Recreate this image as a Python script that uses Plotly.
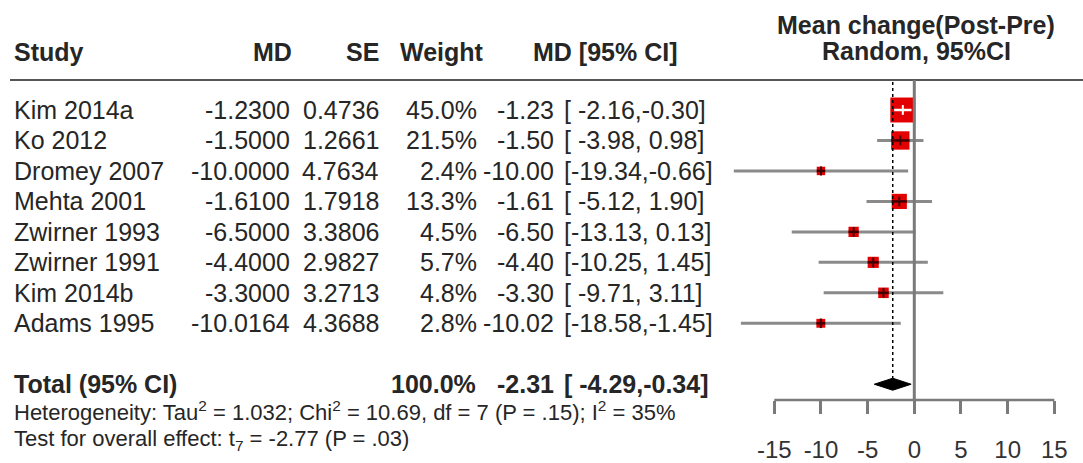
import math
import plotly.graph_objects as go

# ---- study-level data -------------------------------------------------------
studies = ["Kim 2014a", "Ko 2012", "Dromey 2007", "Mehta 2001",
           "Zwirner 1993", "Zwirner 1991", "Kim 2014b", "Adams 1995"]
md = [-1.2300, -1.5000, -10.0000, -1.6100, -6.5000, -4.4000, -3.3000, -10.0164]
se = [0.4736, 1.2661, 4.7634, 1.7918, 3.3806, 2.9827, 3.2713, 4.3688]
weight = [45.0, 21.5, 2.4, 13.3, 4.5, 5.7, 4.8, 2.8]
ci_lower = [-2.16, -3.98, -19.34, -5.12, -13.13, -10.25, -9.71, -18.58]
ci_upper = [-0.30, 0.98, -0.66, 1.90, 0.13, 1.45, 3.11, -1.45]

# ---- pooled (random effects) result ----------------------------------------
pooled_md = -2.31
pooled_lower = -4.29
pooled_upper = -0.34
total_weight = 100.0
tau2 = 1.032
chi2 = 10.69
het_df = 7
het_p = ".15"
i2 = 35
t_stat = -2.77
overall_p = ".03"

axis_ticks = [-15, -10, -5, 0, 5, 10, 15]

# ---- page geometry ----------------------------------------------------------
W, H = 1083, 463
ZERO_PX = 914.3            # horizontal pixel of MD = 0
PX_PER_UNIT = 140.0 / 15   # pixels per MD unit
ROW0_PX = 110.0            # vertical pixel of the first study row
ROW_STEP = 30.47           # pixels between rows
AXIS_PX = 400.0            # vertical pixel of the MD axis line

x_range = [-ZERO_PX / PX_PER_UNIT, (W - ZERO_PX) / PX_PER_UNIT]
y_range = [(H - ROW0_PX) / ROW_STEP, -ROW0_PX / ROW_STEP]


def row_of(px):
    return (px - ROW0_PX) / ROW_STEP


def fx(px):
    return px / W


rows = list(range(len(studies)))
total_row = len(studies) + 1

FONT = "Liberation Sans, Arial, Helvetica, sans-serif"
TXT = "#262626"
GREY = "#8a8a8a"
FS = 25

fig = go.Figure()

# confidence interval whiskers
wx, wy = [], []
for r, lo, hi in zip(rows, ci_lower, ci_upper):
    wx += [lo, hi, None]
    wy += [r, r, None]
fig.add_trace(go.Scatter(x=wx, y=wy, mode="lines",
                         line=dict(color=GREY, width=3), hoverinfo="skip"))

# weight squares (area grows with weight)
box_sizes = [3.2 * math.sqrt(w) + 3.5 for w in weight]
fig.add_trace(go.Scatter(x=md, y=rows, mode="markers",
                         marker=dict(symbol="square", size=box_sizes, opacity=1,
                                     color="#e30000", line=dict(width=0)),
                         hoverinfo="skip"))

# interval drawn across each square: white when it lies inside the square
for r, m, lo, hi, s in zip(rows, md, ci_lower, ci_upper, box_sizes):
    half = s / 2 / PX_PER_UNIT
    inside = lo >= m - half and hi <= m + half
    col = "white" if inside else "#400000"
    fig.add_trace(go.Scatter(x=[max(lo, m - half), min(hi, m + half)], y=[r, r],
                             mode="lines", line=dict(color=col, width=2.5),
                             hoverinfo="skip"))
    fig.add_trace(go.Scatter(x=[m], y=[r], mode="markers",
                             marker=dict(symbol="line-ns", size=min(7, s - 2),
                                         line=dict(color=col, width=2)),
                             hoverinfo="skip"))

# pooled diamond
dh = 6 / ROW_STEP
fig.add_trace(go.Scatter(
    x=[pooled_lower, pooled_md, pooled_upper, pooled_md, pooled_lower],
    y=[total_row, total_row - dh, total_row, total_row + dh, total_row],
    mode="lines", fill="toself", fillcolor="black",
    line=dict(color="black", width=1), hoverinfo="skip"))

shapes = [
    # rule under the column headers
    dict(type="line", xref="paper", yref="y", x0=fx(10), x1=1,
         y0=row_of(80), y1=row_of(80), line=dict(color="#555555", width=2)),
    # line of no effect
    dict(type="line", xref="x", yref="y", x0=0, x1=0,
         y0=row_of(80), y1=row_of(AXIS_PX), line=dict(color="#7a7a7a", width=3)),
    # pooled estimate reference
    dict(type="line", xref="x", yref="y", x0=pooled_md, x1=pooled_md,
         y0=row_of(82), y1=total_row - dh, line=dict(color="black", width=1.5, dash="dot")),
    # MD axis line
    dict(type="line", xref="x", yref="paper", x0=axis_ticks[0], x1=axis_ticks[-1],
         y0=(H - AXIS_PX) / H, y1=(H - AXIS_PX) / H, line=dict(color="#7a7a7a", width=2.5)),
]

annotations = []


def add_text(text, x_px, y, anchor, size=FS, bold=False):
    if bold:
        text = "<b>" + text + "</b>"
    annotations.append(dict(text=text, xref="paper", yref="y", x=fx(x_px), y=y,
                            xanchor=anchor, yanchor="middle", showarrow=False,
                            font=dict(family=FONT, size=size, color=TXT)))


NB = "\u00a0"


def ci_text(lo, hi):
    return f"[{lo:6.2f},{hi:5.2f}]".replace(" ", NB)


# column headers
hy = row_of(52)
add_text("Study", 12, hy, "left", bold=True)
add_text("MD", 294, hy, "right", bold=True)
add_text("SE", 381, hy, "right", bold=True)
add_text("Weight", 486, hy, "right", bold=True)
add_text("MD [95% CI]", 679, hy, "right", bold=True)
add_text("Mean change(Post-Pre)", 916, row_of(25), "center", bold=True)
add_text("Random, 95%CI", 916, row_of(51), "center", bold=True)

# study rows
for r, name, m, s, w, lo, hi in zip(rows, studies, md, se, weight, ci_lower, ci_upper):
    add_text(name, 12, r, "left")
    add_text(f"{m:.4f}", 292, r, "right")
    add_text(f"{s:.4f}", 381, r, "right")
    add_text(f"{w:.1f}%", 479, r, "right")
    add_text(f"{m:.2f}", 556, r, "right")
    add_text(ci_text(lo, hi), 562, r, "left")

# pooled row
add_text("Total (95% CI)", 12, total_row, "left", bold=True)
add_text(f"{total_weight:.1f}%", 478, total_row, "right", bold=True)
add_text(f"{pooled_md:.2f}", 556, total_row, "right", bold=True)
add_text(ci_text(pooled_lower, pooled_upper), 562, total_row, "left", bold=True)

# heterogeneity and overall effect
add_text(f"Heterogeneity: Tau<sup>2</sup> = {tau2:.3f}; Chi<sup>2</sup> = {chi2:.2f}, "
         f"df = {het_df} (P = {het_p}); I<sup>2</sup> = {i2}%", 12, row_of(411), "left", size=22)
add_text(f"Test for overall effect: t<sub>{het_df}</sub> = {t_stat:.2f} (P = {overall_p})",
         12, row_of(440), "left", size=22)

fig.update_layout(
    width=W, height=H, margin=dict(l=0, r=0, t=0, b=0),
    paper_bgcolor="white", plot_bgcolor="white", showlegend=False,
    template="none",
    shapes=shapes, annotations=annotations,
    xaxis=dict(range=x_range, domain=[0, 1], anchor="free", position=(H - AXIS_PX) / H,
               showgrid=False, zeroline=False, showline=False,
               tickmode="array", tickvals=axis_ticks, ticktext=[str(t) for t in axis_ticks],
               ticks="outside", ticklen=13, tickwidth=2.5, tickcolor="#7a7a7a",
               ticklabelstandoff=15,
               tickfont=dict(family=FONT, size=24, color="#333333")),
    yaxis=dict(range=y_range, domain=[0, 1], visible=False, showgrid=False, zeroline=False),
)

fig.write_html("out.html")
